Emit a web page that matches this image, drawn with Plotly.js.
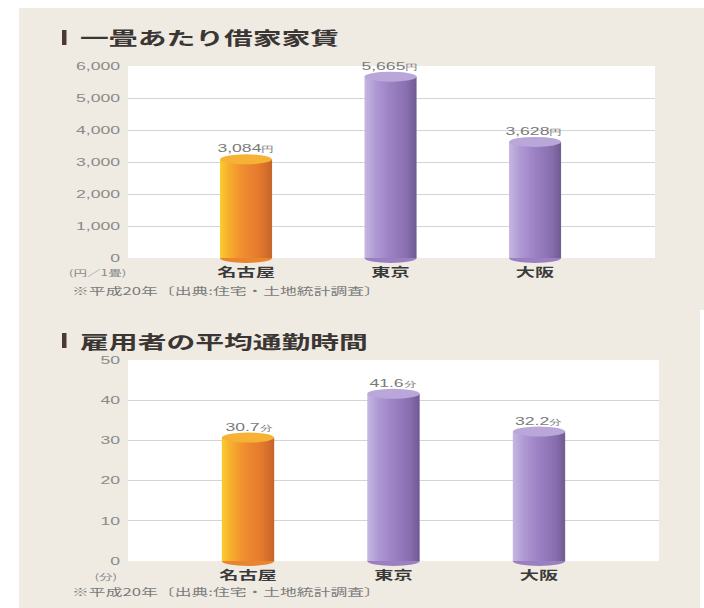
<!DOCTYPE html>
<html>
<head>
<meta charset="utf-8">
<script src="https://cdn.plot.ly/plotly-3.0.1.min.js"></script>
<style>
  html, body { margin: 0; padding: 0; background: #ffffff; overflow: hidden; }
  #chart { width: 440px; height: 608px; transform: scaleX(1.6); transform-origin: 0 0; }
</style>
</head>
<body>
<div id="chart"></div>
<script>
// ---------------- data ----------------
const categories = ['名古屋', '東京', '大阪'];
const rentValues = [3084, 5665, 3628];          // 円 / 1畳
const commuteValues = [30.7, 41.6, 32.2];       // 分
const rentTicks = [0, 1000, 2000, 3000, 4000, 5000, 6000];
const commuteTicks = [0, 10, 20, 30, 40, 50];
const rentUnit = '円';
const commuteUnit = '分';
const rentTitle = '一畳あたり借家家賃';
const commuteTitle = '雇用者の平均通勤時間';
const rentAxisUnit = '(円／1畳)';
const commuteAxisUnit = '(分)';
const sourceNote = '※平成20年〔出典:住宅・土地統計調査〕';

// ---------------- style ----------------
const W = 704, H = 608;
const px = v => v / W;
const py = v => 1 - v / H;
const beige = '#efebe2';
const barKinds = ['orange', 'purple', 'purple'];
const stops = {
  orange: [[0, [248, 204, 44]], [0.18, [246, 172, 46]], [0.45, [239, 139, 48]], [0.75, [229, 122, 46]], [1, [198, 100, 40]]],
  purple: [[0, [196, 182, 224]], [0.2, [176, 154, 212]], [0.5, [155, 129, 194]], [0.8, [138, 112, 176]], [1, [112, 90, 146]]]
};
const capColor = { orange: '#f5b234', purple: '#b9a7d9' };
const baseColor = { orange: '#e9852f', purple: '#9a80c0' };

function lerpColor(st, t) {
  for (let i = 0; i < st.length - 1; i++) {
    const [t0, c0] = st[i], [t1, c1] = st[i + 1];
    if (t >= t0 && t <= t1) {
      const f = (t - t0) / (t1 - t0);
      const c = c0.map((a, j) => Math.round(a + (c1[j] - a) * f));
      return 'rgb(' + c.join(',') + ')';
    }
  }
  return 'rgb(' + st[st.length - 1][1].join(',') + ')';
}

const charts = [
  { xa: 'x', ya: 'y', xdom: [px(128), px(655)], ydom: [py(258), py(66)], range: [-0.817, 2.83],
    yrange: [0, 6000], ticks: rentTicks, values: rentValues, unit: rentUnit,
    title: rentTitle, titleY: 37, barTop: 30, axisUnit: rentAxisUnit, unitX: 97, unitY: 272, noteY: 290, fmt: ',' },
  { xa: 'x2', ya: 'y2', xdom: [px(128), px(659)], ydom: [py(561), py(360)], range: [-0.825, 2.825],
    yrange: [0, 50], ticks: commuteTicks, values: commuteValues, unit: commuteUnit,
    title: commuteTitle, titleY: 341, barTop: 333, axisUnit: commuteAxisUnit, unitX: 106, unitY: 576, noteY: 591, fmt: '' }
];

const barW = 0.36;
const N = 20;
const traces = [];
const shapes = [];
const annotations = [];

// background white margins
shapes.push({ type: 'rect', xref: 'paper', yref: 'paper', x0: 0, x1: 1, y0: py(8), y1: 1, fillcolor: '#ffffff', line: { width: 0 }, layer: 'below' });
shapes.push({ type: 'rect', xref: 'paper', yref: 'paper', x0: 0, x1: px(19), y0: 0, y1: 1, fillcolor: '#ffffff', line: { width: 0 }, layer: 'below' });
shapes.push({ type: 'rect', xref: 'paper', yref: 'paper', x0: px(700), x1: 1, y0: 0, y1: py(310), fillcolor: '#ffffff', line: { width: 0 }, layer: 'below' });

const layout = {
  width: 440, height: H,
  margin: { l: 0, r: 0, t: 0, b: 0, pad: 0 },
  paper_bgcolor: beige,
  plot_bgcolor: '#ffffff',
  barmode: 'overlay',
  showlegend: false,
  font: { family: 'Liberation Sans, Arial, sans-serif', color: '#888888' }
};

charts.forEach((c, ci) => {
  const sfx = ci === 0 ? '' : '2';
  const pxPerUnit = ((c.ydom[1] - c.ydom[0]) * H) / (c.yrange[1] - c.yrange[0]);
  const dy = 5 / pxPerUnit;

  for (let k = 0; k < N; k++) {
    const off = -barW / 2 + k * barW / N;
    const wid = Math.min(barW / N * 1.6, barW / 2 - off);
    const t = (k + 0.5) / N;
    traces.push({
      type: 'bar', x: categories, y: c.values, xaxis: c.xa, yaxis: c.ya,
      offset: off, width: wid,
      marker: { color: barKinds.map(kd => lerpColor(stops[kd], t)), line: { width: 0 } },
      hoverinfo: 'skip', showlegend: false
    });
  }

  c.values.forEach((v, i) => {
    const kd = barKinds[i];
    shapes.push({ type: 'circle', xref: c.xa, yref: c.ya, x0: i - barW / 2, x1: i + barW / 2,
      y0: v - dy, y1: v + dy, fillcolor: capColor[kd], line: { width: 0 }, layer: 'above' });
    shapes.push({ type: 'circle', xref: c.xa, yref: 'paper', x0: i - barW / 2, x1: i + barW / 2,
      y0: c.ydom[0] - 5 / H, y1: c.ydom[0] + 5 / H, fillcolor: baseColor[kd], line: { width: 0 }, layer: 'below' });
    annotations.push({ xref: c.xa, yref: c.ya, x: i, y: v, yanchor: 'middle', yshift: 11, showarrow: false,
      text: v.toLocaleString('en-US') + '<span style="font-size:8px">' + c.unit + '</span>',
      font: { family: 'Liberation Sans, Arial, sans-serif', size: 11, color: '#7a7a7a' } });
  });

  layout['xaxis' + sfx] = {
    domain: c.xdom, anchor: c.ya, type: 'category', range: c.range,
    showgrid: false, zeroline: false, showline: false, ticks: '',
    tickfont: { family: 'Noto Sans CJK JP', size: 12, color: '#3a3a3a', weight: 'bold' },
    ticklabelstandoff: 6, fixedrange: true
  };
  layout['yaxis' + sfx] = {
    domain: c.ydom, anchor: c.xa, range: c.yrange, tickvals: c.ticks, tickformat: c.fmt,
    showgrid: true, gridcolor: '#d4d4d4', gridwidth: 1, zeroline: false, showline: false, ticks: '',
    tickfont: { family: 'Liberation Sans, Arial, sans-serif', size: 11, color: '#8a8a8a' },
    ticklabelstandoff: 4, fixedrange: true
  };

  // title marker bar
  shapes.push({ type: 'rect', xref: 'paper', yref: 'paper', x0: px(62), x1: px(66.5),
    y0: py(c.barTop + 15), y1: py(c.barTop), fillcolor: '#4a3a32', line: { width: 0 }, layer: 'above' });
  annotations.push({ xref: 'paper', yref: 'paper', x: px(76), y: py(c.titleY), xanchor: 'left', yanchor: 'middle',
    showarrow: false, text: c.title,
    font: { family: 'Noto Sans CJK JP', size: 18, color: '#3b3634', weight: 'bold' } });
  annotations.push({ xref: 'paper', yref: 'paper', x: px(c.unitX), y: py(c.unitY), xanchor: 'center', yanchor: 'middle',
    showarrow: false, text: c.axisUnit,
    font: { family: 'Noto Sans CJK JP', size: 8.5, color: '#8a8a8a' } });
  annotations.push({ xref: 'paper', yref: 'paper', x: px(68), y: py(c.noteY), xanchor: 'left', yanchor: 'middle',
    showarrow: false, text: sourceNote,
    font: { family: 'Noto Sans CJK JP', size: 10.5, color: '#7a7a7a' } });
});

layout.shapes = shapes;
layout.annotations = annotations;

Plotly.newPlot('chart', traces, layout, { displayModeBar: false, staticPlot: true });
</script>
</body>
</html>
